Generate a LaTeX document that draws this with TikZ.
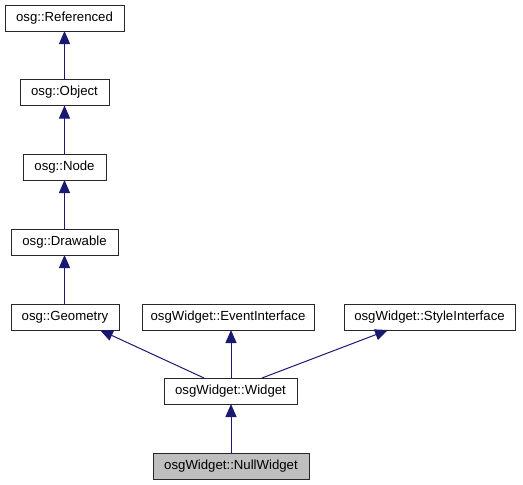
\documentclass[tikz,border=0pt]{standalone}
\usepackage{fontspec}
\setmainfont{Liberation Sans}
\usetikzlibrary{arrows.meta}
\definecolor{edgec}{RGB}{25,25,112}
\definecolor{boxc}{RGB}{40,40,40}
\definecolor{hl}{RGB}{191,191,191}
\begin{document}
\begin{tikzpicture}[x=1pt,y=-1pt,
  cls/.style={draw=boxc,line width=1pt,fill=white,inner sep=0pt,outer sep=0pt,
    minimum height=26pt,font=\fontsize{13.2}{15}\selectfont},
  arr/.style={draw=edgec,line width=1pt,-{Triangle[length=13pt,width=11pt,fill=edgec]}}]
\useasboundingbox (0,0) rectangle (523,485);
\node[cls,minimum width=119pt] (ref) at (64.5,18) {osg::Referenced};
\node[cls,minimum width=89pt] (obj) at (64.5,92.5) {osg::Object};
\node[cls,minimum width=83pt] (nod) at (64.5,167) {osg::Node};
\node[cls,minimum width=107pt] (drw) at (64.5,242) {osg::Drawable};
\node[cls,minimum width=108pt] (geo) at (65,317) {osg::Geometry};
\node[cls,minimum width=172pt] (evt) at (228,317) {osgWidget::EventInterface};
\node[cls,minimum width=171pt] (sty) at (429.5,317) {osgWidget::StyleInterface};
\node[cls,minimum width=133pt] (wid) at (230.5,391) {osgWidget::Widget};
\node[cls,minimum width=156pt,fill=hl] (nul) at (231,466) {osgWidget::NullWidget};
\coordinate (wtop) at ([xshift=0.5pt]wid.north);
\draw[arr] (obj.north) -- (ref.south);
\draw[arr] (nod.north) -- (obj.south);
\draw[arr] (drw.north) -- (nod.south);
\draw[arr] (geo.north -| drw.north) -- (drw.south);
\draw[arr] ([xshift=-26.5pt]wid.north) -- ([xshift=35pt]geo.south);
\draw[arr] (wtop) -- (wtop |- evt.south);
\draw[arr] ([xshift=31.5pt]wid.north) -- ([xshift=-41.5pt]sty.south);
\draw[arr] (nul.north) -- (nul.north |- wid.south);
\end{tikzpicture}
\end{document}
